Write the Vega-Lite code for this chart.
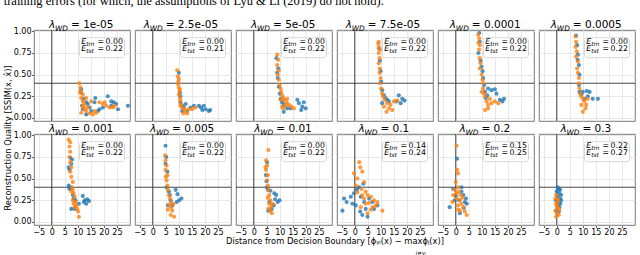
{
"$schema":"https://vega.github.io/schema/vega-lite/v6.json",
"padding":{"left":3,"top":-5,"right":0,"bottom":0},
"bounds":"flush",
"title":{"text":"training errors (for which, the assumptions of Lyu & Li (2019) do not hold).","anchor":"start","frame":"bounds","font":"Liberation Serif","fontSize":12.5,"fontWeight":"normal","color":"#000","offset":12},
"data":{"values":[
{"r":1,"c":1,"lam":"1e-05","tr":0,"ts":0.22},{"r":1,"c":2,"lam":"2.5e-05","tr":0,"ts":0.21},{"r":1,"c":3,"lam":"5e-05","tr":0,"ts":0.22},{"r":1,"c":4,"lam":"7.5e-05","tr":0,"ts":0.22},{"r":1,"c":5,"lam":"0.0001","tr":0,"ts":0.22},{"r":1,"c":6,"lam":"0.0005","tr":0,"ts":0.22},
{"r":2,"c":1,"lam":"0.001","tr":0,"ts":0.22},{"r":2,"c":2,"lam":"0.005","tr":0,"ts":0.22},{"r":2,"c":3,"lam":"0.01","tr":0,"ts":0.22},{"r":2,"c":4,"lam":"0.1","tr":0.14,"ts":0.24},{"r":2,"c":5,"lam":"0.2","tr":0.15,"ts":0.25},{"r":2,"c":6,"lam":"0.3","tr":0.22,"ts":0.27},
{"r":1,"c":1,"s":"a","x":11.3,"y":0.33},{"r":1,"c":1,"s":"a","x":11.3,"y":0.29},{"r":1,"c":1,"s":"a","x":13.2,"y":0.18},{"r":1,"c":1,"s":"a","x":14.5,"y":0.12},{"r":1,"c":1,"s":"a","x":16.4,"y":0.18},{"r":1,"c":1,"s":"a","x":18.3,"y":0.10},{"r":1,"c":1,"s":"a","x":19.6,"y":0.12},{"r":1,"c":1,"s":"a","x":21.5,"y":0.25},{"r":1,"c":1,"s":"a","x":22.8,"y":0.19},{"r":1,"c":1,"s":"a","x":23.8,"y":0.18},{"r":1,"c":1,"s":"a","x":24.7,"y":0.16},{"r":1,"c":1,"s":"a","x":25.4,"y":0.10},{"r":1,"c":1,"s":"a","x":29.2,"y":0.14},{"r":1,"c":1,"s":"a","x":13.2,"y":0.04},{"r":1,"c":1,"s":"a","x":15.1,"y":0.08},{"r":1,"c":1,"s":"a","x":11.9,"y":0.10},{"r":1,"c":1,"s":"a","x":17.7,"y":0.08},{"r":1,"c":1,"s":"a","x":13.8,"y":0.16},{"r":1,"c":1,"s":"a","x":22.8,"y":0.14},{"r":1,"c":1,"s":"a","x":16.7,"y":0.23},{"r":1,"c":1,"s":"a","x":12.2,"y":0.22},{"r":1,"c":1,"s":"a","x":11.6,"y":0.14},
{"r":1,"c":1,"s":"b","x":10.6,"y":0.40},{"r":1,"c":1,"s":"b","x":11.0,"y":0.35},{"r":1,"c":1,"s":"b","x":10.9,"y":0.29},{"r":1,"c":1,"s":"b","x":11.3,"y":0.23},{"r":1,"c":1,"s":"b","x":11.9,"y":0.19},{"r":1,"c":1,"s":"b","x":11.9,"y":0.14},{"r":1,"c":1,"s":"b","x":12.6,"y":0.10},{"r":1,"c":1,"s":"b","x":13.2,"y":0.08},{"r":1,"c":1,"s":"b","x":14.5,"y":0.05},{"r":1,"c":1,"s":"b","x":15.8,"y":0.04},{"r":1,"c":1,"s":"b","x":16.4,"y":0.08},{"r":1,"c":1,"s":"b","x":11.3,"y":0.06},{"r":1,"c":1,"s":"b","x":12.6,"y":0.16},{"r":1,"c":1,"s":"b","x":13.8,"y":0.12},{"r":1,"c":1,"s":"b","x":18.3,"y":0.18},{"r":1,"c":1,"s":"b","x":19.6,"y":0.16},{"r":1,"c":1,"s":"b","x":20.9,"y":0.14},{"r":1,"c":1,"s":"b","x":22.2,"y":0.12},{"r":1,"c":1,"s":"b","x":23.5,"y":0.12},{"r":1,"c":1,"s":"b","x":24.1,"y":0.14},{"r":1,"c":1,"s":"b","x":20.3,"y":0.18},{"r":1,"c":1,"s":"b","x":11.9,"y":0.27},{"r":1,"c":1,"s":"b","x":13.2,"y":0.23},{"r":1,"c":1,"s":"b","x":15.1,"y":0.19},{"r":1,"c":1,"s":"b","x":17.1,"y":0.06},{"r":1,"c":1,"s":"b","x":11.0,"y":0.31},{"r":1,"c":1,"s":"b","x":12.2,"y":0.12},
{"r":1,"c":2,"s":"a","x":10.0,"y":0.52},{"r":1,"c":2,"s":"a","x":10.4,"y":0.29},{"r":1,"c":2,"s":"a","x":10.6,"y":0.18},{"r":1,"c":2,"s":"a","x":11.3,"y":0.14},{"r":1,"c":2,"s":"a","x":11.9,"y":0.12},{"r":1,"c":2,"s":"a","x":12.6,"y":0.16},{"r":1,"c":2,"s":"a","x":14.5,"y":0.12},{"r":1,"c":2,"s":"a","x":15.8,"y":0.14},{"r":1,"c":2,"s":"a","x":17.7,"y":0.14},{"r":1,"c":2,"s":"a","x":19.6,"y":0.14},{"r":1,"c":2,"s":"a","x":20.3,"y":0.10},{"r":1,"c":2,"s":"a","x":21.5,"y":0.08},{"r":1,"c":2,"s":"a","x":11.3,"y":0.08},{"r":1,"c":2,"s":"a","x":13.2,"y":0.08},{"r":1,"c":2,"s":"a","x":10.6,"y":0.25},{"r":1,"c":2,"s":"a","x":18.5,"y":0.12},{"r":1,"c":2,"s":"a","x":19.0,"y":0.09},{"r":1,"c":2,"s":"a","x":22.0,"y":0.09},
{"r":1,"c":2,"s":"b","x":9.4,"y":0.55},{"r":1,"c":2,"s":"b","x":9.6,"y":0.48},{"r":1,"c":2,"s":"b","x":10.0,"y":0.45},{"r":1,"c":2,"s":"b","x":9.7,"y":0.39},{"r":1,"c":2,"s":"b","x":10.0,"y":0.35},{"r":1,"c":2,"s":"b","x":10.3,"y":0.31},{"r":1,"c":2,"s":"b","x":10.0,"y":0.27},{"r":1,"c":2,"s":"b","x":10.4,"y":0.23},{"r":1,"c":2,"s":"b","x":10.6,"y":0.20},{"r":1,"c":2,"s":"b","x":10.9,"y":0.16},{"r":1,"c":2,"s":"b","x":11.3,"y":0.12},{"r":1,"c":2,"s":"b","x":11.9,"y":0.10},{"r":1,"c":2,"s":"b","x":12.6,"y":0.08},{"r":1,"c":2,"s":"b","x":13.8,"y":0.10},{"r":1,"c":2,"s":"b","x":15.1,"y":0.10},{"r":1,"c":2,"s":"b","x":16.4,"y":0.12},{"r":1,"c":2,"s":"b","x":13.2,"y":0.05},{"r":1,"c":2,"s":"b","x":11.7,"y":0.05},{"r":1,"c":2,"s":"b","x":10.4,"y":0.33},{"r":1,"c":2,"s":"b","x":10.6,"y":0.14},{"r":1,"c":2,"s":"b","x":9.8,"y":0.42},
{"r":1,"c":3,"s":"a","x":8.7,"y":0.69},{"r":1,"c":3,"s":"a","x":9.4,"y":0.57},{"r":1,"c":3,"s":"a","x":9.2,"y":0.46},{"r":1,"c":3,"s":"a","x":9.6,"y":0.36},{"r":1,"c":3,"s":"a","x":10.0,"y":0.28},{"r":1,"c":3,"s":"a","x":10.3,"y":0.22},{"r":1,"c":3,"s":"a","x":10.9,"y":0.18},{"r":1,"c":3,"s":"a","x":11.5,"y":0.07},{"r":1,"c":3,"s":"a","x":12.8,"y":0.11},{"r":1,"c":3,"s":"a","x":16.7,"y":0.21},{"r":1,"c":3,"s":"a","x":17.3,"y":0.17},{"r":1,"c":3,"s":"a","x":18.6,"y":0.13},{"r":1,"c":3,"s":"a","x":19.2,"y":0.18},{"r":1,"c":3,"s":"a","x":19.9,"y":0.11},{"r":1,"c":3,"s":"a","x":18.2,"y":0.09},{"r":1,"c":3,"s":"a","x":11.5,"y":0.15},{"r":1,"c":3,"s":"a","x":14.1,"y":0.11},{"r":1,"c":3,"s":"a","x":9.0,"y":0.52},
{"r":1,"c":3,"s":"b","x":9.0,"y":0.73},{"r":1,"c":3,"s":"b","x":9.4,"y":0.67},{"r":1,"c":3,"s":"b","x":9.0,"y":0.61},{"r":1,"c":3,"s":"b","x":9.6,"y":0.55},{"r":1,"c":3,"s":"b","x":9.2,"y":0.50},{"r":1,"c":3,"s":"b","x":9.6,"y":0.44},{"r":1,"c":3,"s":"b","x":9.9,"y":0.38},{"r":1,"c":3,"s":"b","x":10.3,"y":0.34},{"r":1,"c":3,"s":"b","x":10.5,"y":0.30},{"r":1,"c":3,"s":"b","x":10.9,"y":0.26},{"r":1,"c":3,"s":"b","x":11.3,"y":0.23},{"r":1,"c":3,"s":"b","x":11.8,"y":0.21},{"r":1,"c":3,"s":"b","x":12.6,"y":0.18},{"r":1,"c":3,"s":"b","x":13.5,"y":0.15},{"r":1,"c":3,"s":"b","x":14.4,"y":0.13},{"r":1,"c":3,"s":"b","x":15.4,"y":0.11},{"r":1,"c":3,"s":"b","x":12.2,"y":0.15},{"r":1,"c":3,"s":"b","x":11.3,"y":0.11},{"r":1,"c":3,"s":"b","x":10.3,"y":0.21},{"r":1,"c":3,"s":"b","x":12.8,"y":0.22},{"r":1,"c":3,"s":"b","x":10.9,"y":0.13},
{"r":1,"c":4,"s":"a","x":9.6,"y":0.66},{"r":1,"c":4,"s":"a","x":9.9,"y":0.54},{"r":1,"c":4,"s":"a","x":10.1,"y":0.42},{"r":1,"c":4,"s":"a","x":10.5,"y":0.32},{"r":1,"c":4,"s":"a","x":11.2,"y":0.26},{"r":1,"c":4,"s":"a","x":11.8,"y":0.23},{"r":1,"c":4,"s":"a","x":12.4,"y":0.21},{"r":1,"c":4,"s":"a","x":16.9,"y":0.26},{"r":1,"c":4,"s":"a","x":18.2,"y":0.22},{"r":1,"c":4,"s":"a","x":19.1,"y":0.20},{"r":1,"c":4,"s":"a","x":17.6,"y":0.17},{"r":1,"c":4,"s":"a","x":16.0,"y":0.19},{"r":1,"c":4,"s":"a","x":13.1,"y":0.19},{"r":1,"c":4,"s":"a","x":10.5,"y":0.17},{"r":1,"c":4,"s":"a","x":9.3,"y":0.80},
{"r":1,"c":4,"s":"b","x":9.2,"y":0.88},{"r":1,"c":4,"s":"b","x":9.0,"y":0.86},{"r":1,"c":4,"s":"b","x":9.2,"y":0.82},{"r":1,"c":4,"s":"b","x":9.6,"y":0.79},{"r":1,"c":4,"s":"b","x":9.2,"y":0.75},{"r":1,"c":4,"s":"b","x":9.5,"y":0.69},{"r":1,"c":4,"s":"b","x":9.2,"y":0.63},{"r":1,"c":4,"s":"b","x":9.6,"y":0.57},{"r":1,"c":4,"s":"b","x":9.5,"y":0.52},{"r":1,"c":4,"s":"b","x":9.9,"y":0.46},{"r":1,"c":4,"s":"b","x":9.6,"y":0.40},{"r":1,"c":4,"s":"b","x":10.1,"y":0.34},{"r":1,"c":4,"s":"b","x":10.5,"y":0.28},{"r":1,"c":4,"s":"b","x":10.9,"y":0.25},{"r":1,"c":4,"s":"b","x":11.4,"y":0.21},{"r":1,"c":4,"s":"b","x":12.4,"y":0.17},{"r":1,"c":4,"s":"b","x":13.7,"y":0.15},{"r":1,"c":4,"s":"b","x":15.0,"y":0.19},{"r":1,"c":4,"s":"b","x":16.3,"y":0.20},{"r":1,"c":4,"s":"b","x":13.1,"y":0.11},{"r":1,"c":4,"s":"b","x":12.2,"y":0.07},{"r":1,"c":4,"s":"b","x":14.4,"y":0.09},{"r":1,"c":4,"s":"b","x":11.2,"y":0.13},
{"r":1,"c":5,"s":"a","x":9.0,"y":0.98},{"r":1,"c":5,"s":"a","x":9.2,"y":0.88},{"r":1,"c":5,"s":"a","x":8.7,"y":0.75},{"r":1,"c":5,"s":"a","x":9.5,"y":0.66},{"r":1,"c":5,"s":"a","x":9.9,"y":0.59},{"r":1,"c":5,"s":"a","x":10.3,"y":0.54},{"r":1,"c":5,"s":"a","x":10.5,"y":0.46},{"r":1,"c":5,"s":"a","x":10.9,"y":0.38},{"r":1,"c":5,"s":"a","x":11.2,"y":0.30},{"r":1,"c":5,"s":"a","x":11.5,"y":0.23},{"r":1,"c":5,"s":"a","x":12.4,"y":0.34},{"r":1,"c":5,"s":"a","x":13.7,"y":0.32},{"r":1,"c":5,"s":"a","x":15.0,"y":0.33},{"r":1,"c":5,"s":"a","x":15.6,"y":0.28},{"r":1,"c":5,"s":"a","x":16.9,"y":0.21},{"r":1,"c":5,"s":"a","x":18.5,"y":0.22},{"r":1,"c":5,"s":"a","x":17.9,"y":0.19},{"r":1,"c":5,"s":"a","x":12.1,"y":0.26},
{"r":1,"c":5,"s":"b","x":8.6,"y":0.96},{"r":1,"c":5,"s":"b","x":9.0,"y":0.92},{"r":1,"c":5,"s":"b","x":8.7,"y":0.87},{"r":1,"c":5,"s":"b","x":9.2,"y":0.84},{"r":1,"c":5,"s":"b","x":9.0,"y":0.79},{"r":1,"c":5,"s":"b","x":9.2,"y":0.69},{"r":1,"c":5,"s":"b","x":9.5,"y":0.63},{"r":1,"c":5,"s":"b","x":9.2,"y":0.57},{"r":1,"c":5,"s":"b","x":9.9,"y":0.50},{"r":1,"c":5,"s":"b","x":10.3,"y":0.44},{"r":1,"c":5,"s":"b","x":10.5,"y":0.40},{"r":1,"c":5,"s":"b","x":10.5,"y":0.34},{"r":1,"c":5,"s":"b","x":10.9,"y":0.28},{"r":1,"c":5,"s":"b","x":11.2,"y":0.25},{"r":1,"c":5,"s":"b","x":11.8,"y":0.19},{"r":1,"c":5,"s":"b","x":12.4,"y":0.15},{"r":1,"c":5,"s":"b","x":11.2,"y":0.09},{"r":1,"c":5,"s":"b","x":12.4,"y":0.11},{"r":1,"c":5,"s":"b","x":13.7,"y":0.17},{"r":1,"c":5,"s":"b","x":15.0,"y":0.19},{"r":1,"c":5,"s":"b","x":16.3,"y":0.17},{"r":1,"c":5,"s":"b","x":13.1,"y":0.22},{"r":1,"c":5,"s":"b","x":9.9,"y":0.30},
{"r":1,"c":6,"s":"a","x":7.4,"y":0.95},{"r":1,"c":6,"s":"a","x":7.8,"y":0.84},{"r":1,"c":6,"s":"a","x":8.1,"y":0.73},{"r":1,"c":6,"s":"a","x":8.5,"y":0.61},{"r":1,"c":6,"s":"a","x":8.7,"y":0.50},{"r":1,"c":6,"s":"a","x":8.5,"y":0.38},{"r":1,"c":6,"s":"a","x":8.7,"y":0.30},{"r":1,"c":6,"s":"a","x":9.4,"y":0.27},{"r":1,"c":6,"s":"a","x":10.0,"y":0.30},{"r":1,"c":6,"s":"a","x":11.5,"y":0.31},{"r":1,"c":6,"s":"a","x":12.6,"y":0.30},{"r":1,"c":6,"s":"a","x":11.9,"y":0.25},{"r":1,"c":6,"s":"a","x":13.8,"y":0.22},{"r":1,"c":6,"s":"a","x":15.8,"y":0.22},{"r":1,"c":6,"s":"a","x":10.6,"y":0.22},{"r":1,"c":6,"s":"a","x":8.0,"y":0.67},
{"r":1,"c":6,"s":"b","x":7.2,"y":0.94},{"r":1,"c":6,"s":"b","x":7.4,"y":0.88},{"r":1,"c":6,"s":"b","x":7.2,"y":0.82},{"r":1,"c":6,"s":"b","x":7.7,"y":0.77},{"r":1,"c":6,"s":"b","x":7.4,"y":0.71},{"r":1,"c":6,"s":"b","x":8.1,"y":0.65},{"r":1,"c":6,"s":"b","x":7.8,"y":0.57},{"r":1,"c":6,"s":"b","x":8.1,"y":0.52},{"r":1,"c":6,"s":"b","x":8.5,"y":0.46},{"r":1,"c":6,"s":"b","x":8.5,"y":0.40},{"r":1,"c":6,"s":"b","x":8.7,"y":0.34},{"r":1,"c":6,"s":"b","x":9.0,"y":0.28},{"r":1,"c":6,"s":"b","x":9.4,"y":0.25},{"r":1,"c":6,"s":"b","x":10.0,"y":0.22},{"r":1,"c":6,"s":"b","x":10.6,"y":0.19},{"r":1,"c":6,"s":"b","x":11.3,"y":0.15},{"r":1,"c":6,"s":"b","x":11.0,"y":0.11},{"r":1,"c":6,"s":"b","x":10.0,"y":0.07},{"r":1,"c":6,"s":"b","x":9.4,"y":0.15},{"r":1,"c":6,"s":"b","x":11.9,"y":0.22},
{"r":2,"c":1,"s":"a","x":7.1,"y":0.74},{"r":2,"c":1,"s":"a","x":7.8,"y":0.72},{"r":2,"c":1,"s":"a","x":7.5,"y":0.67},{"r":2,"c":1,"s":"a","x":6.8,"y":0.60},{"r":2,"c":1,"s":"a","x":6.5,"y":0.42},{"r":2,"c":1,"s":"a","x":6.8,"y":0.38},{"r":2,"c":1,"s":"a","x":7.1,"y":0.40},{"r":2,"c":1,"s":"a","x":8.1,"y":0.31},{"r":2,"c":1,"s":"a","x":8.4,"y":0.27},{"r":2,"c":1,"s":"a","x":7.5,"y":0.15},{"r":2,"c":1,"s":"a","x":8.8,"y":0.15},{"r":2,"c":1,"s":"a","x":9.1,"y":0.25},{"r":2,"c":1,"s":"a","x":11.9,"y":0.30},{"r":2,"c":1,"s":"a","x":12.7,"y":0.25},{"r":2,"c":1,"s":"a","x":13.6,"y":0.26},{"r":2,"c":1,"s":"a","x":14.3,"y":0.24},{"r":2,"c":1,"s":"a","x":13.2,"y":0.21},{"r":2,"c":1,"s":"a","x":12.3,"y":0.23},{"r":2,"c":1,"s":"a","x":10.4,"y":0.21},{"r":2,"c":1,"s":"a","x":6.5,"y":0.63},
{"r":2,"c":1,"s":"b","x":6.5,"y":0.95},{"r":2,"c":1,"s":"b","x":7.1,"y":0.92},{"r":2,"c":1,"s":"b","x":6.8,"y":0.87},{"r":2,"c":1,"s":"b","x":7.1,"y":0.81},{"r":2,"c":1,"s":"b","x":6.8,"y":0.75},{"r":2,"c":1,"s":"b","x":7.1,"y":0.69},{"r":2,"c":1,"s":"b","x":7.5,"y":0.63},{"r":2,"c":1,"s":"b","x":7.1,"y":0.58},{"r":2,"c":1,"s":"b","x":7.5,"y":0.52},{"r":2,"c":1,"s":"b","x":8.1,"y":0.46},{"r":2,"c":1,"s":"b","x":7.8,"y":0.40},{"r":2,"c":1,"s":"b","x":8.1,"y":0.37},{"r":2,"c":1,"s":"b","x":8.4,"y":0.33},{"r":2,"c":1,"s":"b","x":8.8,"y":0.29},{"r":2,"c":1,"s":"b","x":8.1,"y":0.25},{"r":2,"c":1,"s":"b","x":9.1,"y":0.23},{"r":2,"c":1,"s":"b","x":9.4,"y":0.19},{"r":2,"c":1,"s":"b","x":9.7,"y":0.15},{"r":2,"c":1,"s":"b","x":10.1,"y":0.12},{"r":2,"c":1,"s":"b","x":10.4,"y":0.06},{"r":2,"c":1,"s":"b","x":8.8,"y":0.17},{"r":2,"c":1,"s":"b","x":8.4,"y":0.21},{"r":2,"c":1,"s":"b","x":7.5,"y":0.35},
{"r":2,"c":2,"s":"a","x":4.9,"y":0.88},{"r":2,"c":2,"s":"a","x":4.9,"y":0.67},{"r":2,"c":2,"s":"a","x":5.6,"y":0.58},{"r":2,"c":2,"s":"a","x":5.3,"y":0.40},{"r":2,"c":2,"s":"a","x":6.2,"y":0.35},{"r":2,"c":2,"s":"a","x":8.8,"y":0.37},{"r":2,"c":2,"s":"a","x":9.5,"y":0.32},{"r":2,"c":2,"s":"a","x":10.1,"y":0.25},{"r":2,"c":2,"s":"a","x":11.0,"y":0.27},{"r":2,"c":2,"s":"a","x":9.2,"y":0.23},{"r":2,"c":2,"s":"a","x":6.9,"y":0.25},{"r":2,"c":2,"s":"a","x":5.8,"y":0.19},{"r":2,"c":2,"s":"a","x":7.5,"y":0.19},{"r":2,"c":2,"s":"a","x":6.6,"y":0.31},{"r":2,"c":2,"s":"a","x":5.2,"y":0.75},
{"r":2,"c":2,"s":"b","x":4.7,"y":0.77},{"r":2,"c":2,"s":"b","x":4.9,"y":0.71},{"r":2,"c":2,"s":"b","x":5.3,"y":0.65},{"r":2,"c":2,"s":"b","x":4.9,"y":0.60},{"r":2,"c":2,"s":"b","x":5.6,"y":0.54},{"r":2,"c":2,"s":"b","x":5.3,"y":0.48},{"r":2,"c":2,"s":"b","x":5.6,"y":0.42},{"r":2,"c":2,"s":"b","x":5.8,"y":0.37},{"r":2,"c":2,"s":"b","x":6.2,"y":0.31},{"r":2,"c":2,"s":"b","x":6.6,"y":0.27},{"r":2,"c":2,"s":"b","x":6.9,"y":0.23},{"r":2,"c":2,"s":"b","x":6.2,"y":0.19},{"r":2,"c":2,"s":"b","x":7.1,"y":0.17},{"r":2,"c":2,"s":"b","x":7.5,"y":0.13},{"r":2,"c":2,"s":"b","x":6.9,"y":0.08},{"r":2,"c":2,"s":"b","x":8.2,"y":0.06},{"r":2,"c":2,"s":"b","x":5.8,"y":0.14},{"r":2,"c":2,"s":"b","x":7.9,"y":0.21},{"r":2,"c":2,"s":"b","x":5.0,"y":0.52},
{"r":2,"c":3,"s":"a","x":5.1,"y":0.69},{"r":2,"c":3,"s":"a","x":4.7,"y":0.54},{"r":2,"c":3,"s":"a","x":5.0,"y":0.40},{"r":2,"c":3,"s":"a","x":5.4,"y":0.37},{"r":2,"c":3,"s":"a","x":6.4,"y":0.36},{"r":2,"c":3,"s":"a","x":7.9,"y":0.33},{"r":2,"c":3,"s":"a","x":8.6,"y":0.31},{"r":2,"c":3,"s":"a","x":9.2,"y":0.23},{"r":2,"c":3,"s":"a","x":9.9,"y":0.25},{"r":2,"c":3,"s":"a","x":8.2,"y":0.26},{"r":2,"c":3,"s":"a","x":6.0,"y":0.23},{"r":2,"c":3,"s":"a","x":6.9,"y":0.15},{"r":2,"c":3,"s":"a","x":5.6,"y":0.13},{"r":2,"c":3,"s":"a","x":7.7,"y":0.19},{"r":2,"c":3,"s":"a","x":4.9,"y":0.47},
{"r":2,"c":3,"s":"b","x":5.6,"y":0.83},{"r":2,"c":3,"s":"b","x":4.7,"y":0.71},{"r":2,"c":3,"s":"b","x":5.1,"y":0.65},{"r":2,"c":3,"s":"b","x":4.7,"y":0.60},{"r":2,"c":3,"s":"b","x":5.4,"y":0.54},{"r":2,"c":3,"s":"b","x":5.1,"y":0.48},{"r":2,"c":3,"s":"b","x":5.4,"y":0.42},{"r":2,"c":3,"s":"b","x":5.6,"y":0.37},{"r":2,"c":3,"s":"b","x":6.0,"y":0.31},{"r":2,"c":3,"s":"b","x":6.4,"y":0.25},{"r":2,"c":3,"s":"b","x":6.0,"y":0.21},{"r":2,"c":3,"s":"b","x":6.7,"y":0.18},{"r":2,"c":3,"s":"b","x":6.4,"y":0.13},{"r":2,"c":3,"s":"b","x":6.9,"y":0.10},{"r":2,"c":3,"s":"b","x":5.6,"y":0.15},{"r":2,"c":3,"s":"b","x":7.3,"y":0.21},{"r":2,"c":3,"s":"b","x":5.4,"y":0.28},{"r":2,"c":3,"s":"b","x":4.5,"y":0.63},
{"r":2,"c":4,"s":"a","x":-4.1,"y":0.27},{"r":2,"c":4,"s":"a","x":-3.1,"y":0.23},{"r":2,"c":4,"s":"a","x":-4.7,"y":0.13},{"r":2,"c":4,"s":"a","x":-1.5,"y":0.29},{"r":2,"c":4,"s":"a","x":-0.9,"y":0.21},{"r":2,"c":4,"s":"a","x":-0.3,"y":0.33},{"r":2,"c":4,"s":"a","x":0.8,"y":0.37},{"r":2,"c":4,"s":"a","x":1.7,"y":0.40},{"r":2,"c":4,"s":"a","x":2.3,"y":0.29},{"r":2,"c":4,"s":"a","x":3.6,"y":0.23},{"r":2,"c":4,"s":"a","x":4.2,"y":0.15},{"r":2,"c":4,"s":"a","x":2.9,"y":0.08},{"r":2,"c":4,"s":"a","x":5.5,"y":0.27},{"r":2,"c":4,"s":"a","x":6.8,"y":0.23},{"r":2,"c":4,"s":"a","x":7.4,"y":0.15},{"r":2,"c":4,"s":"a","x":8.7,"y":0.19},{"r":2,"c":4,"s":"a","x":4.9,"y":0.06},{"r":2,"c":4,"s":"a","x":0.4,"y":0.19},{"r":2,"c":4,"s":"a","x":2.1,"y":0.12},{"r":2,"c":4,"s":"a","x":3.3,"y":0.44},
{"r":2,"c":4,"s":"b","x":1.7,"y":0.69},{"r":2,"c":4,"s":"b","x":2.1,"y":0.63},{"r":2,"c":4,"s":"b","x":-0.3,"y":0.56},{"r":2,"c":4,"s":"b","x":2.9,"y":0.58},{"r":2,"c":4,"s":"b","x":1.0,"y":0.50},{"r":2,"c":4,"s":"b","x":3.6,"y":0.46},{"r":2,"c":4,"s":"b","x":0.4,"y":0.42},{"r":2,"c":4,"s":"b","x":2.6,"y":0.38},{"r":2,"c":4,"s":"b","x":4.2,"y":0.35},{"r":2,"c":4,"s":"b","x":4.9,"y":0.31},{"r":2,"c":4,"s":"b","x":6.2,"y":0.29},{"r":2,"c":4,"s":"b","x":7.4,"y":0.25},{"r":2,"c":4,"s":"b","x":8.7,"y":0.23},{"r":2,"c":4,"s":"b","x":10.6,"y":0.13},{"r":2,"c":4,"s":"b","x":6.8,"y":0.17},{"r":2,"c":4,"s":"b","x":5.5,"y":0.22},{"r":2,"c":4,"s":"b","x":3.6,"y":0.27},{"r":2,"c":4,"s":"b","x":2.3,"y":0.17},{"r":2,"c":4,"s":"b","x":4.9,"y":0.10},{"r":2,"c":4,"s":"b","x":2.9,"y":0.31},{"r":2,"c":4,"s":"b","x":1.0,"y":0.34},{"r":2,"c":4,"s":"b","x":6.2,"y":0.14},{"r":2,"c":4,"s":"b","x":8.1,"y":0.19},{"r":2,"c":4,"s":"b","x":4.2,"y":0.21},
{"r":2,"c":5,"s":"a","x":0.5,"y":0.73},{"r":2,"c":5,"s":"a","x":-1.0,"y":0.38},{"r":2,"c":5,"s":"a","x":-2.3,"y":0.17},{"r":2,"c":5,"s":"a","x":-0.4,"y":0.25},{"r":2,"c":5,"s":"a","x":2.2,"y":0.35},{"r":2,"c":5,"s":"a","x":2.9,"y":0.31},{"r":2,"c":5,"s":"a","x":3.9,"y":0.27},{"r":2,"c":5,"s":"a","x":4.2,"y":0.21},{"r":2,"c":5,"s":"a","x":3.5,"y":0.23},{"r":2,"c":5,"s":"a","x":3.1,"y":0.16},{"r":2,"c":5,"s":"a","x":1.3,"y":0.25},{"r":2,"c":5,"s":"a","x":2.2,"y":0.40},{"r":2,"c":5,"s":"a","x":0.0,"y":0.30},{"r":2,"c":5,"s":"a","x":1.6,"y":0.10},
{"r":2,"c":5,"s":"b","x":0.3,"y":0.88},{"r":2,"c":5,"s":"b","x":0.5,"y":0.60},{"r":2,"c":5,"s":"b","x":0.9,"y":0.56},{"r":2,"c":5,"s":"b","x":0.0,"y":0.46},{"r":2,"c":5,"s":"b","x":0.9,"y":0.40},{"r":2,"c":5,"s":"b","x":-0.4,"y":0.37},{"r":2,"c":5,"s":"b","x":1.3,"y":0.35},{"r":2,"c":5,"s":"b","x":-1.0,"y":0.31},{"r":2,"c":5,"s":"b","x":0.3,"y":0.27},{"r":2,"c":5,"s":"b","x":1.6,"y":0.25},{"r":2,"c":5,"s":"b","x":-1.3,"y":0.23},{"r":2,"c":5,"s":"b","x":0.9,"y":0.19},{"r":2,"c":5,"s":"b","x":2.2,"y":0.21},{"r":2,"c":5,"s":"b","x":2.9,"y":0.17},{"r":2,"c":5,"s":"b","x":1.6,"y":0.13},{"r":2,"c":5,"s":"b","x":3.5,"y":0.12},{"r":2,"c":5,"s":"b","x":4.2,"y":0.08},{"r":2,"c":5,"s":"b","x":2.6,"y":0.28},{"r":2,"c":5,"s":"b","x":0.9,"y":0.14},{"r":2,"c":5,"s":"b","x":0.3,"y":0.33},{"r":2,"c":5,"s":"b","x":1.8,"y":0.31},
{"r":2,"c":6,"s":"a","x":0.4,"y":0.40},{"r":2,"c":6,"s":"a","x":0.8,"y":0.38},{"r":2,"c":6,"s":"a","x":1.3,"y":0.37},{"r":2,"c":6,"s":"a","x":0.0,"y":0.35},{"r":2,"c":6,"s":"a","x":1.0,"y":0.33},{"r":2,"c":6,"s":"a","x":1.7,"y":0.31},{"r":2,"c":6,"s":"a","x":0.4,"y":0.29},{"r":2,"c":6,"s":"a","x":1.3,"y":0.27},{"r":2,"c":6,"s":"a","x":-0.3,"y":0.25},{"r":2,"c":6,"s":"a","x":0.8,"y":0.23},{"r":2,"c":6,"s":"a","x":1.7,"y":0.25},{"r":2,"c":6,"s":"a","x":0.4,"y":0.19},{"r":2,"c":6,"s":"a","x":1.0,"y":0.17},{"r":2,"c":6,"s":"a","x":-0.3,"y":0.13},{"r":2,"c":6,"s":"a","x":0.8,"y":0.12},{"r":2,"c":6,"s":"a","x":1.4,"y":0.21},
{"r":2,"c":6,"s":"b","x":-0.3,"y":0.31},{"r":2,"c":6,"s":"b","x":0.4,"y":0.26},{"r":2,"c":6,"s":"b","x":-0.3,"y":0.21},{"r":2,"c":6,"s":"b","x":0.4,"y":0.17},{"r":2,"c":6,"s":"b","x":-0.5,"y":0.13},{"r":2,"c":6,"s":"b","x":0.1,"y":0.10},{"r":2,"c":6,"s":"b","x":-0.3,"y":0.06},{"r":2,"c":6,"s":"b","x":0.8,"y":0.08},{"r":2,"c":6,"s":"b","x":0.0,"y":0.18},{"r":2,"c":6,"s":"b","x":0.5,"y":0.23},{"r":2,"c":6,"s":"b","x":-0.5,"y":0.27},{"r":2,"c":6,"s":"b","x":1.0,"y":0.14}
]},
"facet":{
"row":{"field":"r","type":"ordinal","title":"Reconstruction Quality [SSIM(x, x̂)]","header":{"labels":false,"titleOrient":"left","titleFontSize":8.3,"titleFontWeight":"normal","titleColor":"#000","titleFont":"DejaVu Sans","titlePadding":-9}},
"column":{"field":"c","type":"ordinal","title":"Distance from Decision Boundary [ϕᵧᵢ(x) − maxϕⱼ(x)]","header":{"labels":false,"titleOrient":"bottom","titleFontSize":8.3,"titleFontWeight":"normal","titleColor":"#000","titleFont":"DejaVu Sans","titlePadding":-9}}
},
"spacing":{"row":13,"column":5},
"spec":{
"width":96,"height":91,
"layer":[
{"transform":[{"filter":"isValid(datum.lam)"}],"mark":{"type":"rule","color":"#333","strokeWidth":0.9},"encoding":{"x":{"datum":0,"type":"quantitative","title":null,"scale":{"domain":[-6.8,30],"nice":false,"zero":false}}}},
{"transform":[{"filter":"isValid(datum.lam)"}],"mark":{"type":"rule","color":"#333","strokeWidth":0.9},"encoding":{"y":{"datum":0.4,"type":"quantitative","title":null,"scale":{"domain":[-0.036,1.015],"nice":false,"zero":false}}}},
{"transform":[{"filter":"isValid(datum.x)"}],"mark":{"type":"circle","size":17,"opacity":0.8},
"encoding":{
"x":{"field":"x","type":"quantitative","title":null,"scale":{"domain":[-6.8,30],"nice":false,"zero":false},"axis":{"values":[-5,0,5,10,15,20,25],"tickCount":20,"labelOverlap":false,"labelFlush":false}},
"y":{"field":"y","type":"quantitative","title":null,"scale":{"domain":[-0.036,1.015],"nice":false,"zero":false},"axis":{"values":[0,0.25,0.5,0.75,1],"tickCount":20,"format":".2f","labelOverlap":false,"labelFlush":false}},
"color":{"field":"s","type":"nominal","scale":{"domain":["a","b"],"range":["#1f77b4","#ff7f0e"]},"legend":null}}},
{"transform":[{"filter":"isValid(datum.lam)"}],"mark":{"type":"rect","cornerRadius":3,"fill":"#fff","fillOpacity":0.85,"stroke":"#cccccc","strokeWidth":0.8},
"encoding":{"x":{"datum":10.6,"type":"quantitative","title":null},"x2":{"datum":27.9},"y":{"datum":0.926,"type":"quantitative","title":null},"y2":{"datum":0.695}}},
{"transform":[{"filter":"isValid(datum.lam)"}],"mark":{"type":"text","text":"E","fontStyle":"italic","fontSize":7.8,"align":"left","baseline":"middle","color":"#000"},
"encoding":{"x":{"datum":11.3,"type":"quantitative","title":null},"y":{"datum":0.876,"type":"quantitative","title":null}}},
{"transform":[{"filter":"isValid(datum.lam)"}],"mark":{"type":"text","text":"trn","fontStyle":"italic","fontSize":5.8,"align":"left","baseline":"middle","color":"#000"},
"encoding":{"x":{"datum":13.2,"type":"quantitative","title":null},"y":{"datum":0.855,"type":"quantitative","title":null}}},
{"transform":[{"filter":"isValid(datum.lam)"}],"mark":{"type":"text","text":"=","fontSize":7.8,"align":"left","baseline":"middle","color":"#000"},
"encoding":{"x":{"datum":17.5,"type":"quantitative","title":null},"y":{"datum":0.876,"type":"quantitative","title":null}}},
{"transform":[{"filter":"isValid(datum.lam)"}],"mark":{"type":"text","fontSize":7.8,"align":"right","baseline":"middle","color":"#000"},
"encoding":{"text":{"field":"tr","format":".2f"},"x":{"datum":27.3,"type":"quantitative","title":null},"y":{"datum":0.876,"type":"quantitative","title":null}}},
{"transform":[{"filter":"isValid(datum.lam)"}],"mark":{"type":"text","text":"E","fontStyle":"italic","fontSize":7.8,"align":"left","baseline":"middle","color":"#000"},
"encoding":{"x":{"datum":11.3,"type":"quantitative","title":null},"y":{"datum":0.79,"type":"quantitative","title":null}}},
{"transform":[{"filter":"isValid(datum.lam)"}],"mark":{"type":"text","text":"tst","fontStyle":"italic","fontSize":5.8,"align":"left","baseline":"middle","color":"#000"},
"encoding":{"x":{"datum":13.2,"type":"quantitative","title":null},"y":{"datum":0.769,"type":"quantitative","title":null}}},
{"transform":[{"filter":"isValid(datum.lam)"}],"mark":{"type":"text","text":"=","fontSize":7.8,"align":"left","baseline":"middle","color":"#000"},
"encoding":{"x":{"datum":17.5,"type":"quantitative","title":null},"y":{"datum":0.79,"type":"quantitative","title":null}}},
{"transform":[{"filter":"isValid(datum.lam)"}],"mark":{"type":"text","fontSize":7.8,"align":"right","baseline":"middle","color":"#000"},
"encoding":{"text":{"field":"ts","format":".2f"},"x":{"datum":27.3,"type":"quantitative","title":null},"y":{"datum":0.79,"type":"quantitative","title":null}}},
{"transform":[{"filter":"isValid(datum.lam)"},{"calculate":"11.6 + (2.05 - 3.2*length(datum.lam))/2.61","as":"tx"}],"mark":{"type":"text","text":"λ","fontStyle":"italic","fontSize":10.5,"align":"left","baseline":"alphabetic","dx":-19,"color":"#000"},
"encoding":{"x":{"field":"tx","type":"quantitative","title":null},"y":{"datum":1.035,"type":"quantitative","title":null}}},
{"transform":[{"filter":"isValid(datum.lam)"},{"calculate":"11.6 + (2.05 - 3.2*length(datum.lam))/2.61","as":"tx"}],"mark":{"type":"text","text":"WD","fontStyle":"italic","fontSize":7.4,"align":"left","baseline":"alphabetic","dx":-13,"dy":2.5,"color":"#000"},
"encoding":{"x":{"field":"tx","type":"quantitative","title":null},"y":{"datum":1.035,"type":"quantitative","title":null}}},
{"transform":[{"filter":"isValid(datum.lam)"},{"calculate":"11.6 + (2.05 - 3.2*length(datum.lam))/2.61","as":"tx"},{"calculate":"'= ' + datum.lam","as":"tl"}],"mark":{"type":"text","fontSize":10.5,"align":"left","baseline":"alphabetic","dx":3,"color":"#000"},
"encoding":{"text":{"field":"tl"},"x":{"field":"tx","type":"quantitative","title":null},"y":{"datum":1.035,"type":"quantitative","title":null}}},
{"transform":[{"filter":"datum.r == 2 && datum.c == 4 && isValid(datum.lam)"}],"mark":{"type":"text","text":"j≠yᵢ","fontStyle":"italic","fontSize":5.5,"align":"center","baseline":"middle","color":"#000"},
"encoding":{"x":{"datum":25.4,"type":"quantitative","title":null},"y":{"datum":-0.36,"type":"quantitative","title":null}}}
]
},
"config":{
"font":"DejaVu Sans",
"view":{"stroke":"#555","strokeWidth":0.8},
"axis":{"grid":true,"gridColor":"#e2e2e2","gridWidth":0.8,"domain":false,"labelFontSize":8,"labelColor":"#000","labelFont":"DejaVu Sans","tickColor":"#333","tickSize":2.5,"tickWidth":0.8,"labelPadding":0.5,"labelOverlap":false,"labelFlush":false}
}
}
